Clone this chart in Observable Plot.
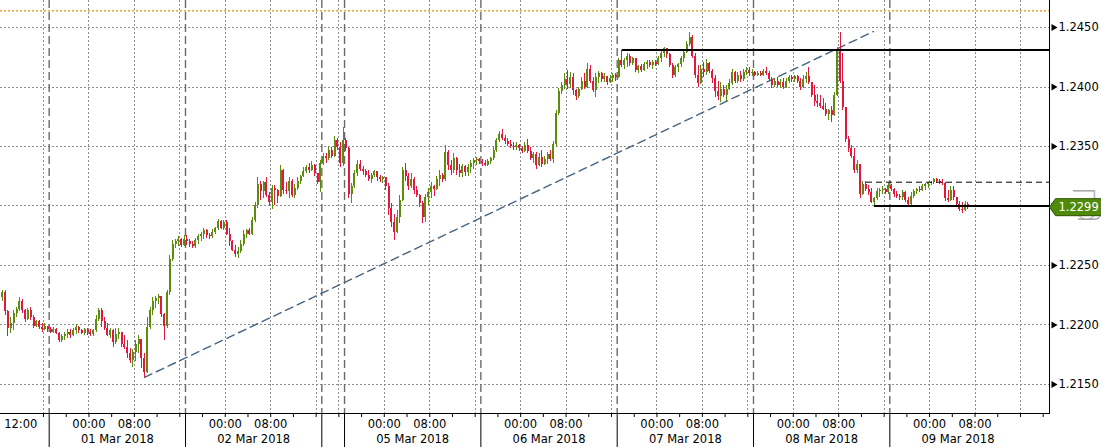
<!DOCTYPE html>
<html><head><meta charset="utf-8">
<script src="https://cdn.jsdelivr.net/npm/d3@7"></script>
<script src="https://cdn.jsdelivr.net/npm/@observablehq/plot@0.6"></script>
<style>html,body{margin:0;padding:0;background:#fff;}#chart{width:1101px;height:447px;overflow:hidden;}</style>
</head><body><div id="chart"></div>
<script>
// EUR/USD 30-minute candles, prices in pips above 1.2000 (open = previous close)
const firstOpenPips = 223;
const closePips = [
227,211,197,201,210,213,220,212,205,212,206,199,203,198,196,199,196,194,196,193,
187,190,192,194,191,195,198,195,193,196,194,192,195,205,212,203,197,191,195,185,
192,194,184,181,176,170,177,184,188,172,160,198,212,220,222,224,209,199,227,255,
268,270,272,267,272,270,268,266,271,274,
276,279,275,274,278,281,287,281,286,276,270,263,259,262,268,276,279,276,
288,300,318,312,320,309,303,315,313,308,330,313,312,321,309,315,321,325,
329,332,330,334,327,320,336,342,340,347,342,355,349,336,355,348,310,
316,327,335,331,329,326,322,326,329,324,322,324,316,298,286,278,290,305,
330,325,316,322,313,309,302,290,307,311,316,314,322,326,322,345,334,
330,340,330,327,333,328,332,336,338,339,337,336,334,337,340,347,355,360,
357,354,352,350,349,351,348,346,351,346,340,343,334,341,335,339,343,339,
352,378,396,401,406,402,408,397,392,398,405,400,415,405,397,408,411,
406,409,404,407,410,408,422,418,422,426,420,424,414,417,414,419,421,418,
421,419,424,428,432,427,418,410,416,419,424,429,436,442,426,410,403,
415,412,420,413,407,396,392,398,393,398,403,412,405,410,406,412,414,411,
412,410,411,410,413,411,406,401,405,401,404,400,405,408,406,409,405,400,
406,409,404,393,388,386,384,381,377,380,376,393,431,405,383,356,348,
342,330,335,310,318,314,311,303,306,312,313,314,311,317,314,310,308,307,
311,305,301,308,312,314,313,316,318,319,320,322,321,320,319,306,305,313,
307,301,297,296,301,299];
const highPips = [
229,229,212,206,212,215,223,221,213,214,215,208,204,204,201,201,199,198,198,197,
194,192,194,196,196,197,200,199,196,197,197,196,196,208,214,214,206,201,197,196,
197,197,194,191,187,180,179,187,191,188,176,206,215,223,224,226,224,210,229,258,
271,272,274,273,275,275,272,270,273,276,
278,281,280,277,280,282,289,288,288,288,281,271,267,265,271,279,280,281,
290,303,324,321,321,324,311,317,317,314,334,331,320,324,322,318,324,326,
332,334,336,337,335,327,338,344,344,349,349,358,357,353,366,357,349,
319,330,338,338,333,331,330,327,330,329,326,325,324,319,302,293,296,309,
332,336,327,327,324,316,310,304,310,315,320,317,325,330,327,351,347,
338,344,341,335,335,334,335,338,340,341,340,339,338,339,341,349,357,363,
364,359,357,355,353,353,352,350,353,356,349,345,345,344,347,342,345,347,
354,380,399,404,411,414,412,411,398,400,408,411,420,418,408,411,413,
412,411,409,410,411,411,424,431,424,428,427,425,424,418,419,421,422,422,
422,422,426,430,433,432,428,420,418,420,426,430,438,446,443,428,418,
418,421,423,421,415,410,405,404,401,401,406,415,413,412,413,415,416,416,
415,413,413,413,415,416,413,408,407,408,406,407,407,410,410,410,410,407,
410,412,416,404,401,394,393,390,386,381,384,395,433,446,428,383,358,
351,348,338,335,321,321,317,315,307,315,315,316,315,319,318,315,312,310,
313,312,307,311,314,315,316,318,319,320,321,323,323,322,322,320,313,316,
316,307,304,303,304,303];
const lowPips = [
220,208,190,193,195,206,211,210,202,204,204,197,198,196,194,195,194,193,193,192,
185,185,187,189,189,190,192,193,192,191,191,190,190,194,203,198,195,190,189,181,
184,188,181,179,172,168,164,169,176,163,156,159,196,208,214,217,206,187,197,225,
253,264,266,265,266,267,265,264,264,268,
270,272,273,272,273,276,279,280,279,275,266,262,257,256,260,266,273,275,
275,286,298,305,306,307,300,297,300,302,307,310,310,306,307,306,313,318,
324,327,327,329,325,318,311,334,336,338,340,341,347,332,333,346,306,
302,315,325,329,326,324,321,319,324,321,320,319,313,292,282,271,277,285,
304,321,313,315,310,307,299,285,286,300,306,308,313,316,320,321,330,
326,327,326,324,324,325,325,327,331,334,335,333,333,333,335,338,345,353,
355,352,350,348,347,347,346,344,345,344,338,336,331,333,332,334,335,337,
336,350,376,394,398,398,399,393,389,390,397,398,399,403,395,391,403,
404,404,401,403,404,405,407,416,415,416,417,418,412,411,412,413,415,416,
415,417,418,421,425,424,416,407,408,412,416,421,428,434,424,407,400,
402,408,410,411,403,391,389,387,391,388,397,401,403,403,404,405,410,409,
409,409,409,409,409,410,405,399,400,400,399,398,399,403,404,404,403,397,
399,403,402,391,384,383,382,380,375,372,370,375,392,403,380,353,345,
340,327,327,306,309,312,309,302,300,305,307,310,310,310,312,307,306,305,
305,303,299,300,306,310,311,312,313,315,317,318,319,318,317,304,303,304,
305,299,295,294,295,297];

// time axis (hours of trading time since 28 Feb 16:00, weekend removed)
const firstCandleT = -7.25;
const candleStepT = 0.5;
const xDomain = [-7.57, 177.11];
const yDomain = [1.21256, 1.24727];
const yTicks = [1.2150, 1.2200, 1.2250, 1.2300, 1.2350, 1.2400, 1.2450];
const timeTickT = [-4, 8, 16, 32, 40, 60, 68, 84, 92, 108, 116, 132, 140, 156, 164];
const timeTickLabels = ["12:00","00:00","08:00","00:00","08:00","00:00","08:00","00:00","08:00","00:00","08:00","00:00","08:00","00:00","08:00"];
const dateT = [13, 37, 65, 89, 113, 137, 161];
const dateLabels = ["01 Mar 2018","02 Mar 2018","05 Mar 2018","06 Mar 2018","07 Mar 2018","08 Mar 2018","09 Mar 2018"];
const dayBreakT = [1, 25, 49, 53, 77, 101, 125, 149];
const gridT = [0,8,16,24,32,40,48,52,60,68,76,84,92,100,108,116,124,132,140,148,156,164,172];
const minorTickT = [0,4,8,12,16,20,24,28,32,36,40,44,48,52,56,60,64,68,72,76,80,84,88,92,96,100,104,108,112,116,120,124,128,132,136,140,144,148,152,156,160,164,168,172,176];
const orangeLevel = 1.2464;
const resistance = {level: 1.2431, fromT: 101.9};
const rangeTop = {level: 1.2320, fromT: 144.9};
const support = {level: 1.2300, fromT: 146.3};
const trendLine = [{t: 17.8, v: 1.2156}, {t: 146.1, v: 1.24466}];
const lastPrice = 1.2299;
const watermark = "Lg";

const UP = "#5c8c0c", DOWN = "#e3163c";
const toPrice = p => 1.2 + p / 10000;
const candles = closePips.map((c, i) => {
  const o = toPrice(i ? closePips[i - 1] : firstOpenPips);
  const cl = toPrice(c);
  return {t: firstCandleT + candleStepT * i, o, c: cl,
    h: Math.max(toPrice(highPips[i]), o, cl), l: Math.min(toPrice(lowPips[i]), o, cl)};
});

const priceTag = {draw(ctx) {
  ctx.moveTo(0, 0); ctx.lineTo(6, -8.5); ctx.lineTo(53, -8.5);
  ctx.lineTo(53, 8.5); ctx.lineTo(6, 8.5); ctx.closePath();
}};

const FONT = "DejaVu Sans";
const chart = Plot.plot({
  width: 1101, height: 447,
  marginTop: 0, marginLeft: 0, marginRight: 52, marginBottom: 34,
  x: {domain: xDomain, axis: null},
  y: {domain: yDomain, axis: null},
  style: {fontFamily: FONT, fontSize: "11.5px", color: "#000", background: "#fff"},
  marks: [
    Plot.ruleY(yTicks, {stroke: "#8c8c8c", strokeDasharray: "2,2", strokeWidth: 1, shapeRendering: "crispEdges"}),
    Plot.ruleX(gridT, {stroke: "#8c8c8c", strokeDasharray: "2,2", strokeWidth: 1, shapeRendering: "crispEdges"}),
    Plot.ruleX(dayBreakT, {stroke: "#6a6a6a", strokeDasharray: "8,4", strokeWidth: 1.4}),
    Plot.ruleY([orangeLevel], {stroke: "#f0a028", strokeDasharray: "2,2", strokeWidth: 1.5}),
    Plot.line(trendLine, {x: "t", y: "v", stroke: "#46637f", strokeDasharray: "8,5", strokeWidth: 1.4}),
    Plot.ruleX(candles, {x: "t", y1: "l", y2: "h", stroke: d => d.c >= d.o ? UP : DOWN, strokeWidth: 1, shapeRendering: "crispEdges"}),
    Plot.ruleX(candles, {x: "t", y1: d => Math.min(d.o, d.c), y2: d => Math.max(d.o, d.c) + (Math.abs(d.o - d.c) < 1e-6 ? 0.00009 : 0),
      stroke: d => d.c >= d.o ? UP : DOWN, strokeWidth: 2, shapeRendering: "crispEdges"}),
    Plot.ruleY([resistance], {y: "level", x1: "fromT", x2: () => xDomain[1], stroke: "#000", strokeWidth: 2}),
    Plot.ruleY([rangeTop], {y: "level", x1: "fromT", x2: () => xDomain[1], stroke: "#000", strokeWidth: 1, strokeDasharray: "6,4"}),
    Plot.ruleY([support], {y: "level", x1: "fromT", x2: () => xDomain[1], stroke: "#000", strokeWidth: 2}),
    Plot.frame({anchor: "right", stroke: "#000"}),
    Plot.frame({anchor: "bottom", stroke: "#000"}),
    Plot.ruleX(minorTickT, {stroke: "#000", insetTop: 413, insetBottom: -4}),
    Plot.ruleX(dayBreakT, {stroke: "#000", insetTop: 413, insetBottom: -34}),
    Plot.text(timeTickT, {x: d => d, text: (d, i) => timeTickLabels[i], frameAnchor: "bottom", dy: 11, lineAnchor: "middle", fontSize: 11.5, fill: "#000"}),
    Plot.text(dateT, {x: d => d, text: (d, i) => dateLabels[i], frameAnchor: "bottom", dy: 26, lineAnchor: "middle", fontSize: 11.5, fill: "#000"}),
    Plot.dot(yTicks, {y: d => d, frameAnchor: "right", dx: 4, symbol: "triangle", r: 2.6, fill: "#000", rotate: 90}),
    Plot.text(yTicks, {y: d => d, text: d => d.toFixed(4), frameAnchor: "right", dx: 9, textAnchor: "start", lineAnchor: "middle", fontSize: 11.5, fill: "#000"}),
    Plot.text([watermark], {y: () => 1.23165, frameAnchor: "right", dx: 36, rotate: 90, textAnchor: "start", lineAnchor: "middle", fontSize: 31, fontWeight: 200, fill: "#a9a9a9"}),
    Plot.dot([lastPrice], {y: d => d, frameAnchor: "right", symbol: priceTag, fill: "#4f8a0b", stroke: "#2d5500", strokeWidth: 1}),
    Plot.text([lastPrice], {y: d => d, text: d => d.toFixed(4), frameAnchor: "right", dx: 9, textAnchor: "start", lineAnchor: "middle", fontSize: 11.5, fill: "#fff"})
  ]
});
// the watermark is seen mirrored (as from the back of the screen)
d3.select(chart).selectAll("text").filter(function() { return this.textContent === watermark; })
  .each(function() {
    const tr = this.getAttribute("transform") || "";
    this.setAttribute("transform", tr + " scale(1,-1)");
  });
document.getElementById("chart").appendChild(chart);
</script>
</body></html>
